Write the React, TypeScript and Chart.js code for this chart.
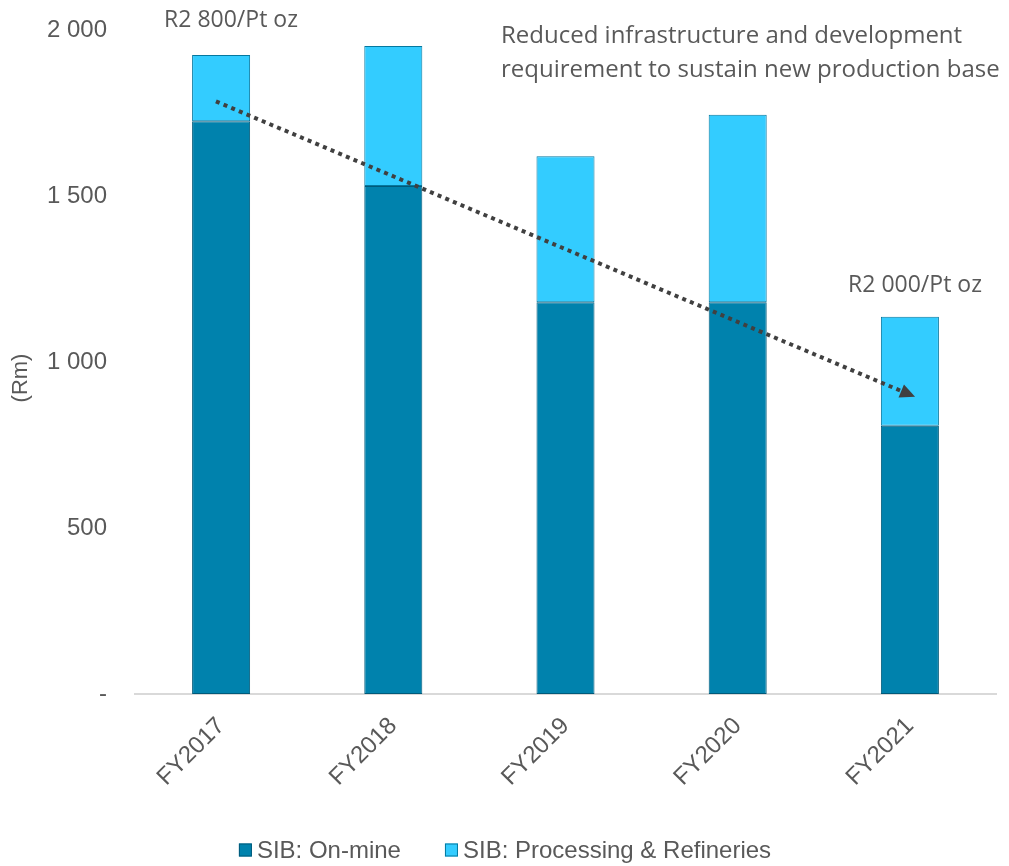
import React, { useEffect, useRef } from "react";
import { Chart, registerables } from "chart.js";

Chart.register(...registerables);

const categories = ["FY2017", "FY2018", "FY2019", "FY2020", "FY2021"];
const onMine = [1725, 1530, 1180, 1180, 808];
const processing = [200, 422, 440, 565, 328];
const yTicks = [0, 500, 1000, 1500, 2000];
const yTitle = "(Rm)";
const seriesNames = ["SIB: On-mine", "SIB: Processing & Refineries"];
const seriesColors = ["#0082AD", "#33CCFF"];
const seriesBorders = ["#005A7A", "#05789F"];
const trendStart = { index: -0.03, value: 1785 };
const trendEnd = { index: 4.03, value: 895 };
const noteLeft = "R2 800/Pt oz";
const noteRight = "R2 000/Pt oz";
const noteTop = ["Reduced infrastructure and development", "requirement to sustain new production base"];

const fmt = (v: number) => (v === 0 ? "-" : String(v).replace(/\B(?=(\d{3})+(?!\d))/g, " "));

const annotations = {
  id: "annotations",
  afterDraw(chart: any) {
    const ctx = chart.ctx;
    const xs = chart.scales.x;
    const ys = chart.scales.y;
    ctx.save();
    // dotted trend arrow
    const x1 = xs.getPixelForValue(trendStart.index);
    const y1 = ys.getPixelForValue(trendStart.value);
    const x2 = xs.getPixelForValue(trendEnd.index);
    const y2 = ys.getPixelForValue(trendEnd.value);
    const ang = Math.atan2(y2 - y1, x2 - x1);
    const headLen = 15;
    const bx = x2 - headLen * Math.cos(ang);
    const by = y2 - headLen * Math.sin(ang);
    ctx.strokeStyle = "#404040";
    ctx.fillStyle = "#404040";
    ctx.lineWidth = 4;
    ctx.lineCap = "butt";
    ctx.setLineDash([4, 4.3]);
    ctx.beginPath();
    ctx.moveTo(x1, y1);
    ctx.lineTo(bx, by);
    ctx.stroke();
    ctx.setLineDash([]);
    const hw = 7;
    ctx.beginPath();
    ctx.moveTo(x2, y2);
    ctx.lineTo(bx + hw * Math.sin(ang), by - hw * Math.cos(ang));
    ctx.lineTo(bx - hw * Math.sin(ang), by + hw * Math.cos(ang));
    ctx.closePath();
    ctx.fill();

    // text notes
    ctx.fillStyle = "#595959";
    ctx.textBaseline = "middle";
    ctx.font = "23px 'Open Sans'";
    ctx.textAlign = "center";
    ctx.fillText(noteLeft, 231, 20);
    ctx.fillText(noteRight, 915, 285);
    ctx.font = "24px 'Open Sans'";
    ctx.textAlign = "left";
    ctx.fillText(noteTop[0], 501, 36);
    ctx.fillText(noteTop[1], 501, 70);

    // y axis title
    ctx.save();
    ctx.translate(21, 378);
    ctx.rotate(-Math.PI / 2);
    ctx.font = "22px 'Liberation Sans', Arial";
    ctx.textAlign = "center";
    ctx.fillText(yTitle, 0, 0);
    ctx.restore();

    // legend
    ctx.font = "24px 'Liberation Sans', Arial";
    const box = 13;
    const gapBoxText = 5;
    const gapItems = 44;
    const widths = seriesNames.map((n) => ctx.measureText(n).width);
    const total = widths.reduce((a, w) => a + box + gapBoxText + w, 0) + gapItems * (seriesNames.length - 1);
    let x = 505 - total / 2;
    const ly = 850;
    seriesNames.forEach((n, i) => {
      ctx.fillStyle = seriesColors[i];
      ctx.fillRect(x, ly - box / 2, box, box);
      ctx.strokeStyle = seriesBorders[i];
      ctx.lineWidth = 1;
      ctx.strokeRect(x + 0.5, ly - box / 2 + 0.5, box - 1, box - 1);
      ctx.fillStyle = "#595959";
      ctx.textAlign = "left";
      ctx.fillText(n, x + box + gapBoxText, ly + 1);
      x += box + gapBoxText + widths[i] + gapItems;
    });
    ctx.restore();
  },
};

export default function App() {
  const ref = useRef<HTMLCanvasElement>(null);
  useEffect(() => {
    if (!ref.current) return;
    const chart = new Chart(ref.current, {
      type: "bar",
      data: {
        labels: categories,
        datasets: [
          {
            label: seriesNames[0],
            data: onMine,
            backgroundColor: seriesColors[0],
            borderColor: seriesBorders[0],
            borderWidth: 1,
            borderSkipped: false,
          },
          {
            label: seriesNames[1],
            data: processing,
            backgroundColor: seriesColors[1],
            borderColor: seriesBorders[1],
            borderWidth: 1,
            borderSkipped: false,
          },
        ],
      },
      options: {
        animation: false,
        responsive: true,
        maintainAspectRatio: false,
        datasets: { bar: { categoryPercentage: 1, barPercentage: 0.337 } },
        layout: { padding: { top: 30, right: 13, left: 0, bottom: 0 } },
        plugins: { legend: { display: false }, tooltip: { enabled: false } },
        scales: {
          x: {
            stacked: true,
            grid: { display: false, drawTicks: false },
            border: { display: true, color: "#D9D9D9", width: 2 },
            ticks: {
              color: "#595959",
              font: { family: "'Liberation Sans', Arial", size: 24 },
              maxRotation: 45,
              minRotation: 45,
              padding: 18,
            },
            afterFit: (s: any) => {
              s.height = 172;
            },
          },
          y: {
            stacked: true,
            min: 0,
            max: 2000,
            grid: { display: false, drawTicks: true, tickLength: 28 },
            border: { display: false },
            afterBuildTicks: (s: any) => {
              s.ticks = yTicks.map((v) => ({ value: v }));
            },
            ticks: {
              color: "#595959",
              font: { family: "'Liberation Sans', Arial", size: 24 },
              padding: 0,
              callback: (v: any) => fmt(Number(v)),
            },
            afterFit: (s: any) => {
              s.width = 135;
            },
          },
        },
      },
      plugins: [annotations],
    });
    return () => chart.destroy();
  }, []);
  return (
    <div style={{ position: "fixed", left: 0, top: 0, width: 1009, height: 866, background: "#fff" }}>
      <canvas ref={ref} />
    </div>
  );
}
